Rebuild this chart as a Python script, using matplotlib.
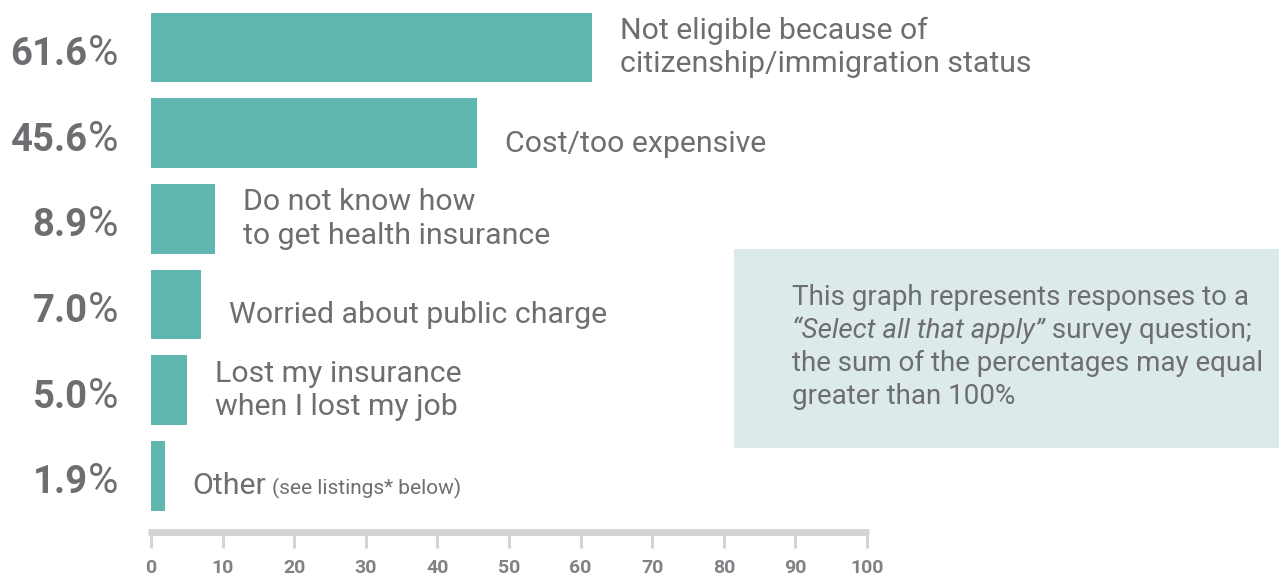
import matplotlib
matplotlib.use("Agg")
import matplotlib.pyplot as plt
from matplotlib.patches import Rectangle

plt.rcParams['font.family'] = ['Roboto', 'DejaVu Sans']

# Survey responses: reasons for not having health insurance
values = [61.6, 45.6, 8.9, 7.0, 5.0, 1.9]
reasons = [
    "Not eligible because of\ncitizenship/immigration status",
    "Cost/too expensive",
    "Do not know how\nto get health insurance",
    "Worried about public charge",
    "Lost my insurance\nwhen I lost my job",
    "Other",
]
other_note = "(see listings* below)"
xticks = list(range(0, 101, 10))
note_lines = [
    ["This graph represents responses to a"],
    ["\u201cSelect all that apply\u201d", " survey question;"],
    ["the sum of the percentages may equal"],
    ["greater than 100%"],
]

TEAL = "#5fb7b0"
GRAY = "#6d6e71"
TICK_GRAY = "#808285"
AXIS_GRAY = "#d3d4d6"
BOX = "#dceaea"

W, H = 1279, 581
PX = 72 / 100  # points per pixel at dpi 100

fig = plt.figure(figsize=(W / 100, H / 100), dpi=100)
ax = fig.add_axes([148 / W, (H - 531.5) / H, 721 / W, 531.5 / H])
ax.patch.set_visible(False)
ax.set_xlim(-0.42, 100.28)
ax.set_ylim(5.648, -0.554)

ypos = list(range(len(values)))
ax.barh(ypos, values, height=0.815, color=TEAL, zorder=2)

for s in ("top", "right", "left"):
    ax.spines[s].set_visible(False)
ax.spines["bottom"].set_linewidth(7 * PX)
ax.spines["bottom"].set_color(AXIS_GRAY)
ax.spines["bottom"].set_capstyle("butt")
ax.set_yticks([])
ax.set_xticks(xticks)
ax.tick_params(axis="x", length=15.5 * PX, width=3 * PX, color=AXIS_GRAY,
               pad=12 * PX, labelsize=14, labelcolor=TICK_GRAY)
for lbl in ax.get_xticklabels():
    lbl.set_fontweight("bold")

PCT_DY = -17.5 * PX

for y, v, text in zip(ypos, values, reasons):
    # percentage on the left: bold number followed by a lighter percent sign
    pct = ax.annotate("%", xy=(0, y), xytext=(-33 * PX, PCT_DY),
                      textcoords="offset points", ha="right", va="baseline",
                      fontsize=30, color=GRAY, annotation_clip=False)
    ax.annotate(f"{v:.1f}", xy=(0, y), xycoords=(pct, "data"),
                xytext=(0, PCT_DY), textcoords="offset points",
                ha="right", va="baseline", fontsize=27.5,
                fontweight="bold", color=GRAY, annotation_clip=False)

    # category label to the right of the bar
    if "\n" in text:
        ax.annotate(text, xy=(v, y), xytext=(28 * PX, 0),
                    textcoords="offset points", ha="left", va="center",
                    fontsize=21.8, color=GRAY, linespacing=1.24)
    else:
        lab = ax.annotate(text, xy=(v, y), xytext=(28 * PX, -18.5 * PX),
                          textcoords="offset points", ha="left",
                          va="baseline", fontsize=21.8, color=GRAY)
        if text == "Other":
            ax.annotate(other_note, xy=(1, y), xycoords=(lab, "data"),
                        xytext=(6 * PX, -18.5 * PX),
                        textcoords="offset points", ha="left",
                        va="baseline", fontsize=15, color=GRAY)

# explanatory note box
fig.add_artist(Rectangle((734 / W, (H - 448) / H), 545 / W, 199 / H,
                         transform=fig.transFigure, facecolor=BOX,
                         edgecolor="none", zorder=0))
baseline0 = 305
for i, parts in enumerate(note_lines):
    yb = (H - (baseline0 + 33 * i)) / H
    if len(parts) == 1:
        fig.text(792 / W, yb, parts[0], ha="left", va="baseline",
                 fontsize=20, color=GRAY)
    else:
        it = fig.text(792 / W, yb, parts[0], ha="left", va="baseline",
                      fontsize=20, color=GRAY, style="italic")
        ax.annotate(parts[1], xy=(1, 0), xycoords=it, ha="left",
                    va="bottom", fontsize=20, color=GRAY,
                    annotation_clip=False)

fig.savefig("out.png", dpi=100)
